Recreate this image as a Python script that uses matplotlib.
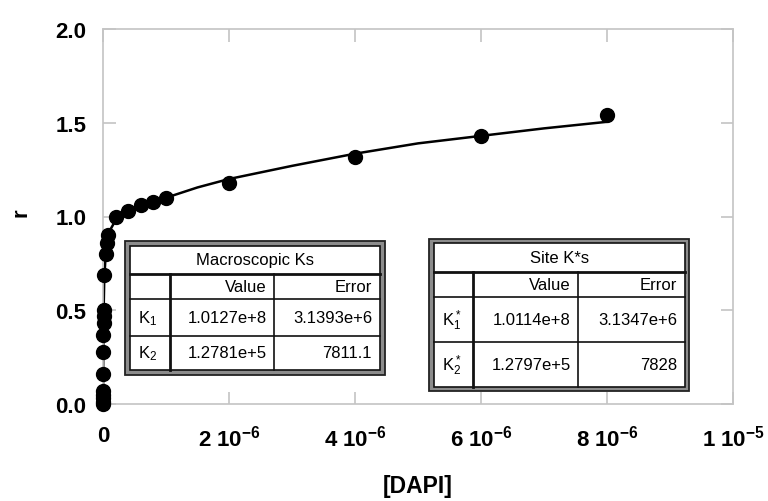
import matplotlib
matplotlib.use("Agg")
import matplotlib.pyplot as plt
from matplotlib.patches import Rectangle
from matplotlib.lines import Line2D

plt.rcParams['font.family'] = 'Liberation Sans'
plt.rcParams['mathtext.fontset'] = 'custom'
plt.rcParams['mathtext.rm'] = 'Liberation Sans'
plt.rcParams['mathtext.it'] = 'Liberation Sans:italic'
plt.rcParams['mathtext.bf'] = 'Liberation Sans:bold'

# measured points
dapi = [0, 0.1e-9, 0.3e-9, 0.5e-9, 0.8e-9, 2e-9, 4e-9, 6e-9, 8e-9, 9e-9, 10e-9,
        22e-9, 40e-9, 60e-9, 80e-9, 0.2e-6, 0.4e-6, 0.6e-6, 0.8e-6, 1.0e-6,
        2e-6, 4e-6, 6e-6, 8e-6]
r_obs = [0.0, 0.01, 0.03, 0.05, 0.07, 0.16, 0.28, 0.37, 0.43, 0.47, 0.50,
         0.69, 0.80, 0.86, 0.90, 1.00, 1.03, 1.06, 1.08, 1.10,
         1.18, 1.32, 1.43, 1.54]

# fitted curve
fit_x = [0, 0.005e-6, 0.01e-6, 0.02e-6, 0.05e-6, 0.1e-6, 0.2e-6, 0.4e-6, 0.6e-6,
         0.8e-6, 1.0e-6, 1.5e-6, 2e-6, 3e-6, 4e-6, 5e-6, 6e-6, 7e-6, 8e-6]
fit_r = [0, 0.33, 0.50, 0.67, 0.84, 0.92, 0.98, 1.02, 1.055,
         1.08, 1.10, 1.155, 1.20, 1.27, 1.335, 1.39, 1.43, 1.47, 1.505]

x_ticks = [0, 2e-6, 4e-6, 6e-6, 8e-6, 1e-5]
x_tick_labels = ['0', r'2 10$^{\mathbf{-6}}$', r'4 10$^{\mathbf{-6}}$',
                 r'6 10$^{\mathbf{-6}}$', r'8 10$^{\mathbf{-6}}$', r'1 10$^{\mathbf{-5}}$']
y_ticks = [0.0, 0.5, 1.0, 1.5, 2.0]

macro_title = 'Macroscopic Ks'
site_title = 'Site K*s'
col_names = ['Value', 'Error']
macro_rows = [r'K$_1$', r'K$_2$']
site_rows = [r'K$_1^*$', r'K$_2^*$']
macro_vals = [['1.0127e+8', '3.1393e+6'], ['1.2781e+5', '7811.1']]
site_vals = [['1.0114e+8', '3.1347e+6'], ['1.2797e+5', '7828']]

W, H = 768, 502
fig = plt.figure(figsize=(7.68, 5.02), dpi=100)
ax = fig.add_axes([103 / W, 97 / H, 630 / W, 375 / H])

ax.plot(fit_x, fit_r, color='black', lw=1.8, zorder=2)
ax.plot(dapi, r_obs, 'o', color='black', ms=10, zorder=3, clip_on=False)

ax.set_xlim(0, 1e-5)
ax.set_ylim(0, 2.0)
ax.set_xticks(x_ticks)
ax.set_xticklabels(x_tick_labels)
ax.set_yticks(y_ticks)
ax.set_yticklabels(['%.1f' % v for v in y_ticks])

for sp in ax.spines.values():
    sp.set_color('#c4c4c4')
    sp.set_linewidth(1.2)
ax.tick_params(direction='in', top=True, right=True, length=9, width=1.2,
               color='#c4c4c4', labelsize=16)
ax.tick_params(axis='x', pad=15)
ax.tick_params(axis='y', pad=12)
for lab in ax.get_xticklabels() + ax.get_yticklabels():
    lab.set_fontweight('bold')

ax.set_xlabel('[DAPI]', fontsize=16.5, fontweight='bold')
ax.set_ylabel('r', fontsize=16, fontweight='bold')
ax.xaxis.set_label_coords(0.5, -0.187)
ax.yaxis.set_label_coords(-0.114, 0.512)


def px(x, y):
    return x / W, 1 - y / H


def hline(x0, x1, y, lw):
    fig.add_artist(Line2D([x0 / W, x1 / W], [1 - y / H, 1 - y / H], color='#111111',
                          lw=lw, transform=fig.transFigure, zorder=6))


def vline(x, y0, y1, lw):
    fig.add_artist(Line2D([x / W, x / W], [1 - y0 / H, 1 - y1 / H], color='#111111',
                          lw=lw, transform=fig.transFigure, zorder=6))


def draw_table(outer, inner, rows_y, cols_x, title, rownames, vals):
    ox0, oy0, ox1, oy1 = outer
    ix0, iy0, ix1, iy1 = inner
    fig.add_artist(Rectangle(px(ox0, oy1), (ox1 - ox0) / W, (oy1 - oy0) / H,
                             transform=fig.transFigure, facecolor='#8c8c8c',
                             edgecolor='#222222', lw=1.3, zorder=5))
    fig.add_artist(Rectangle(px(ix0, iy1), (ix1 - ix0) / W, (iy1 - iy0) / H,
                             transform=fig.transFigure, facecolor='white',
                             edgecolor='#111111', lw=1.2, zorder=5))
    y_title, y_head, y_r1 = rows_y
    c1, c2 = cols_x
    hline(ix0, ix1, y_title, 2.0)
    hline(ix0, ix1, y_head, 1.2)
    hline(ix0, ix1, y_r1, 1.2)
    vline(c1, y_title, iy1, 2.0)
    vline(c2, y_title, iy1, 1.2)
    fs = 12
    fig.text(*px((ix0 + ix1) / 2, (iy0 + y_title) / 2), title, ha='center',
             va='center', fontsize=fs, zorder=7)
    fig.text(*px(c2 - 7, (y_title + y_head) / 2), col_names[0], ha='right',
             va='center', fontsize=fs, zorder=7)
    fig.text(*px(ix1 - 8, (y_title + y_head) / 2), col_names[1], ha='right',
             va='center', fontsize=fs, zorder=7)
    ys = [(y_head + y_r1) / 2, (y_r1 + iy1) / 2]
    for i in range(2):
        fig.text(*px(ix0 + 8, ys[i]), rownames[i], ha='left', va='center',
                 fontsize=fs, zorder=7)
        fig.text(*px(c2 - 7, ys[i]), vals[i][0], ha='right', va='center',
                 fontsize=fs, zorder=7)
        fig.text(*px(ix1 - 8, ys[i]), vals[i][1], ha='right', va='center',
                 fontsize=fs, zorder=7)


draw_table((125, 242, 385, 376), (130, 247, 380, 371), (275, 300, 337),
           (170, 274), macro_title, macro_rows, macro_vals)
draw_table((429, 240, 689, 392), (434, 244, 685, 388), (273, 298, 343),
           (473, 578), site_title, site_rows, site_vals)

fig.savefig('out.png', dpi=100)
